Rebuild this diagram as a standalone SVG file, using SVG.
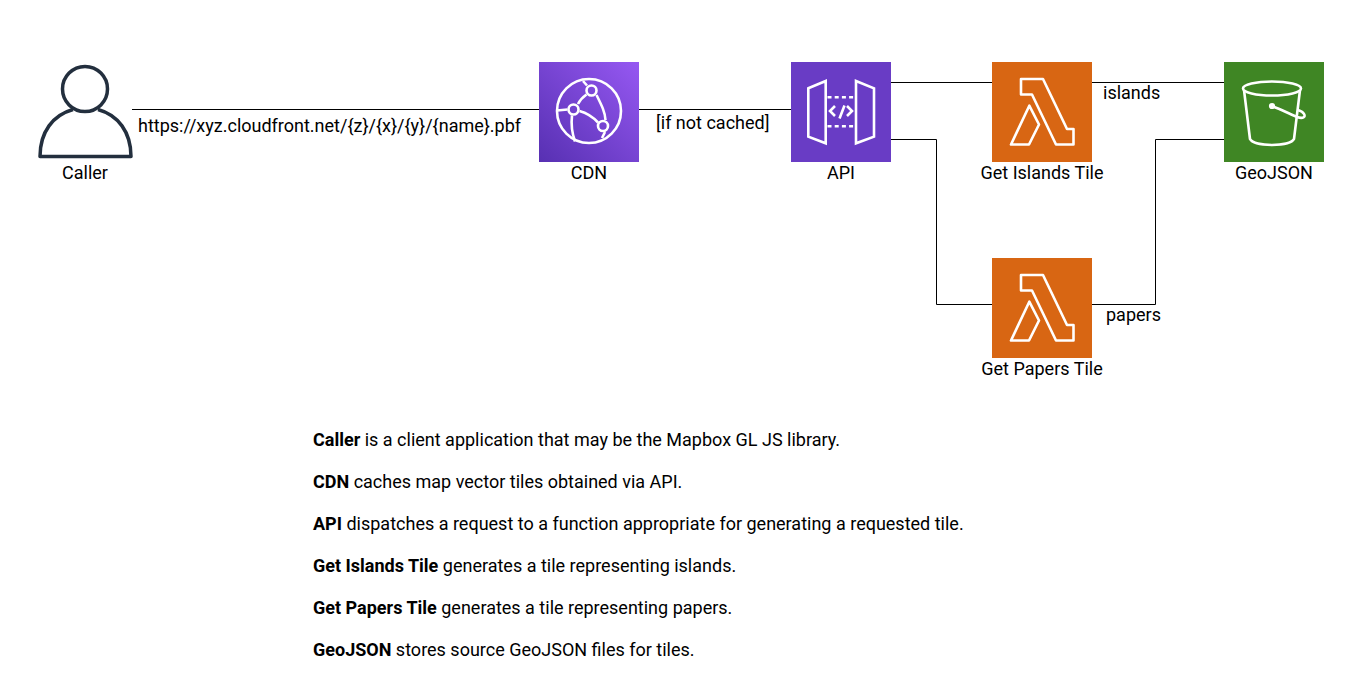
<svg xmlns="http://www.w3.org/2000/svg" width="1363" height="679" viewBox="0 0 1363 679">
<style>
text{font-family:Roboto,"Liberation Sans",sans-serif;font-size:18px;fill:#000}
.c{text-anchor:middle}
.b{font-weight:700}
.w{fill:none;stroke:#fff;stroke-width:2.6}
.l{fill:none;stroke:#000;stroke-width:1}
</style>
<defs>
<linearGradient id="g" x1="0" y1="1" x2="1" y2="0"><stop offset="0" stop-color="#5730b2"/><stop offset="1" stop-color="#9658f2"/></linearGradient>
<g id="lam"><rect width="100" height="100" fill="#d86613"/>
<path class="w" d="M29 17H51L75 67H81.500V82.500H64L40 32.500H29ZM19 82.500H37L47 62.500L37.300 43.700Z" stroke-linejoin="round"/></g>
</defs>
<rect width="1363" height="679" fill="#fff"/>
<g id="connectors">
<path class="l" d="M132 109.500H539"/>
<path class="l" d="M639 109.500H791"/>
<path class="l" d="M891 82.500H992"/>
<path class="l" d="M891 139.500H936.500V304.500H992"/>
<path class="l" d="M1092 82.500H1224"/>
<path class="l" d="M1092 304.500H1155.500V139.500H1224"/>
</g>
<g id="caller">
<circle cx="85" cy="89" r="22.500" fill="none" stroke="#232f3e" stroke-width="3.500"/>
<path d="M73 109.500C53 115 40 132 40 156.500H131C131 132 118 115 98 109.500" fill="none" stroke="#232f3e" stroke-width="3.500" stroke-linejoin="round"/>
<text class="c" x="85" y="179">Caller</text>
</g>
<g id="cdn">
<rect x="539" y="62" width="100" height="100" fill="url(#g)"/>
<g class="w">
<circle cx="589" cy="111" r="32"/>
<circle cx="573.500" cy="109.500" r="5"/><circle cx="591.500" cy="90.500" r="5"/><circle cx="603" cy="126" r="5"/>
<path d="M557 110.500L567.500 109.500M578 104C580 100 583 97 586.500 94.500M583 81L587 85.500M596.500 95C602 106 605 112 605.500 120M579.500 111C587 113 592 116 598 122.500M572 115.500C571 124 572 133 575 141.500M605 132L602 138"/>
</g>
<text class="c" x="589" y="179">CDN</text>
</g>
<g id="api">
<rect x="791" y="62" width="100" height="100" fill="#693cc5"/>
<g class="w">
<path d="M808.300 88.300L825.700 81V143.300L808.300 136.700ZM856 81L874 88.300V136.700L856 143.300Z"/>
<path d="M827.500 97.300H854M827.500 126.300H854" stroke-dasharray="4 3.200"/>
<path d="M835 106L830 111L835 116M847 106L852 111L847 116M844.500 105.500L839.500 118.500"/>
</g>
<text class="c" x="841" y="179">API</text>
</g>
<g id="get-islands-tile">
<use href="#lam" x="992" y="62"/>
<text class="c" x="1042" y="179">Get Islands Tile</text>
</g>
<g id="get-papers-tile">
<use href="#lam" x="992" y="258"/>
<text class="c" x="1042" y="375">Get Papers Tile</text>
</g>
<g id="geojson">
<rect x="1224" y="62" width="100" height="100" fill="#3f8624"/>
<g class="w">
<ellipse cx="1272" cy="88.500" rx="29" ry="7"/>
<path d="M1244 90L1250 139C1252 143 1262 145 1272 145C1282 145 1292 143 1294 139L1300 90"/>
<path d="M1272 106C1282 110 1290 114 1297 117C1303 119 1306 117 1304 114C1303 112 1301 111 1298 110"/>
<circle cx="1272" cy="106" r="1.800" fill="#fff"/>
</g>
<text class="c" x="1274" y="179">GeoJSON</text>
</g>
<g id="labels">
<text x="138" y="132">https://xyz.cloudfront.net/{z}/{x}/{y}/{name}.pbf</text>
<text x="656" y="129">[if not cached]</text>
<text x="1103" y="99">islands</text>
<text x="1106" y="321">papers</text>
</g>
<g id="notes">
<text x="313" y="446"><tspan class="b">Caller</tspan> is a client application that may be the Mapbox GL JS library.</text>
<text x="313" y="488"><tspan class="b">CDN</tspan> caches map vector tiles obtained via API.</text>
<text x="313" y="530"><tspan class="b">API</tspan> dispatches a request to a function appropriate for generating a requested tile.</text>
<text x="313" y="572"><tspan class="b">Get Islands Tile</tspan> generates a tile representing islands.</text>
<text x="313" y="614"><tspan class="b">Get Papers Tile</tspan> generates a tile representing papers.</text>
<text x="313" y="656"><tspan class="b">GeoJSON</tspan> stores source GeoJSON files for tiles.</text>
</g>
</svg>
